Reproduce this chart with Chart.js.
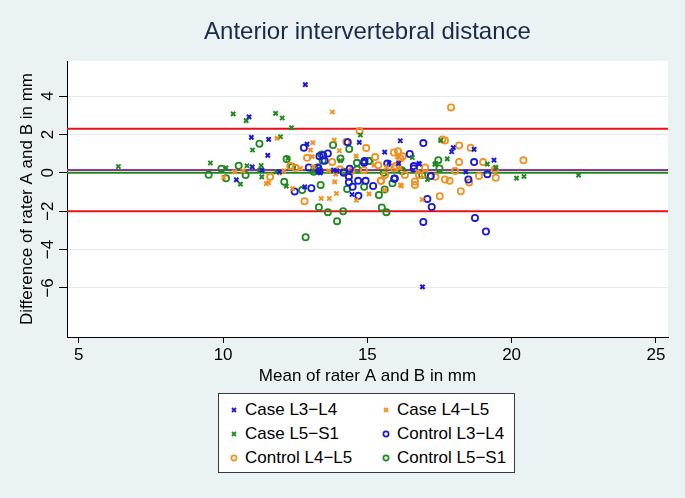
<!DOCTYPE html>
<html>
<head>
<meta charset="utf-8">
<script src="https://cdn.jsdelivr.net/npm/chart.js@4.4.1/dist/chart.umd.min.js"></script>
<style>
  body { margin: 0; background: #eaf2f3; font-family: "Liberation Sans", Arial, sans-serif; }
  #wrap { position: relative; width: 685px; height: 498px; }
  #legend {
    position: absolute; left: 218px; top: 393px; width: 295px; height: 78px;
    background: #fff; border: 1px solid #3a3a3a;
  }
  .item { position: absolute; height: 20px; line-height: 20px; font-size: 17px; color: #000; white-space: nowrap; }
  .item svg { position: absolute; left: -16px; top: 5px; }
</style>
</head>
<body>
<div id="wrap">
  <canvas id="chart" width="685" height="498"></canvas>
  <div id="legend"></div>
</div>
<script>
// ---- data (mean of A and B, difference A - B) ----
const caseL3L4 = [[10.90,2.92],[10.98,1.85],[11.01,0.31],[10.46,-0.37],[12.85,4.60],[11.58,1.74],[11.55,0.91],[12.91,1.50],[14.72,1.59],[15.60,1.08],[16.14,1.67],[16.80,0.45],[17.98,1.31],[17.92,1.10],[18.70,1.22],[19.39,0.66],[18.41,0.05],[16.91,-5.95],[12.83,-0.73],[14.47,-1.13],[13.37,0.00],[13.95,0.10],[15.75,0.52],[16.79,0.49],[11.35,0.14],[11.95,0.05],[13.83,0.14],[13.31,0.05],[16.08,0.49]];
const caseL4L5 = [[10.40,0.05],[10.69,0.10],[10.02,-0.24],[13.79,3.17],[13.11,1.57],[13.03,1.19],[13.09,0.84],[13.85,1.71],[14.03,1.15],[14.61,0.87],[16.04,0.84],[11.50,-0.56],[12.41,-0.82],[13.40,-1.34],[13.68,-1.34],[13.93,-1.08],[14.62,-1.43],[15.06,-1.10],[15.60,-0.90],[16.18,-0.68],[11.87,1.80],[11.58,-0.52],[12.10,0.10],[13.13,0.31],[13.90,-0.07],[13.87,-0.47],[16.09,0.57],[16.15,-0.64],[16.90,-1.39],[11.96,0.00],[12.68,0.23],[13.66,0.10],[15.23,0.40],[15.66,0.28],[16.13,0.25],[16.73,0.07]];
const caseL5S1 = [[6.37,0.33],[10.35,3.07],[10.80,2.72],[11.02,1.19],[9.56,0.51],[10.10,0.26],[10.83,0.37],[10.60,-0.59],[11.27,0.14],[11.82,3.10],[12.05,2.86],[12.37,2.35],[14.76,1.97],[11.99,1.88],[14.07,0.63],[17.34,0.44],[17.08,-0.35],[11.34,-0.21],[11.32,0.38],[12.19,-0.69],[17.54,1.69],[17.77,0.73],[19.16,0.45],[19.45,0.28],[20.17,-0.28],[20.43,-0.19],[22.32,-0.12],[16.56,0.80],[17.37,0.49],[11.84,0.05],[12.25,0.75]];
const controlL3L4 = [[12.80,1.31],[13.34,0.87],[13.63,1.01],[14.32,1.60],[14.90,0.61],[16.94,1.55],[16.47,0.98],[16.61,0.35],[17.20,-0.17],[17.08,-1.36],[17.23,-1.78],[16.94,-2.56],[12.48,-0.97],[13.06,-0.80],[14.36,-0.49],[14.49,-0.73],[14.68,-0.42],[14.94,-0.42],[14.69,-1.20],[15.20,-0.69],[15.93,-0.31],[18.70,0.56],[19.16,-0.07],[18.50,-0.35],[18.73,-2.35],[19.11,-3.06],[13.47,0.92],[13.52,0.63],[13.30,0.25],[13.34,0.10],[14.18,0.00],[14.36,-0.21],[15.95,-0.29],[14.89,0.52],[16.61,0.23],[12.97,0.28],[13.28,0.28],[14.39,0.21],[15.69,0.49]];
const controlL4L5 = [[14.73,2.18],[12.91,0.78],[14.96,1.29],[15.27,0.82],[15.92,1.06],[16.06,1.13],[16.30,-0.12],[17.36,-0.21],[17.51,-1.22],[11.63,-0.21],[12.82,-1.48],[15.48,-0.42],[16.65,-0.45],[15.61,-0.12],[17.90,3.41],[17.60,1.74],[17.69,1.69],[18.18,1.43],[18.58,1.31],[18.18,0.57],[19.01,0.56],[19.42,0.18],[20.41,0.65],[18.04,0.10],[18.87,-0.16],[19.45,-0.26],[18.53,-0.50],[17.69,-0.35],[17.85,-0.42],[17.00,0.28],[18.24,-0.96],[12.33,0.35],[13.78,0.57],[14.27,1.62],[15.38,0.40],[15.98,0.35],[16.15,0.75],[14.45,0.10],[15.46,-0.42],[16.23,0.87],[16.65,-0.64],[16.79,-0.12],[12.51,0.26],[14.05,0.18],[14.88,0.14],[15.93,0.23],[17.00,-0.07]];
const controlL5S1 = [[11.26,1.52],[9.94,0.21],[10.54,0.37],[9.50,-0.10],[10.10,-0.28],[10.78,-0.12],[12.20,0.72],[13.45,0.63],[13.81,1.45],[14.37,1.24],[15.05,0.61],[16.21,0.10],[17.46,0.66],[16.90,-0.10],[12.12,-0.47],[12.74,-0.90],[13.38,-0.63],[13.32,-1.79],[13.63,-2.05],[14.16,-2.00],[13.95,-2.52],[14.30,-0.84],[14.89,-0.73],[15.40,-1.16],[15.87,-0.55],[15.50,-1.81],[15.66,-2.05],[12.86,-3.36],[17.50,0.23],[12.39,0.31],[13.41,0.96],[13.14,0.05],[14.07,0.75],[14.64,0.52],[15.08,0.61],[16.19,0.14],[15.60,-0.87],[13.17,0.23],[14.18,0.05],[14.65,0.18],[15.57,0.00]];

const meanDiff = 0.15;
const upperLoA = 2.30;
const lowerLoA = -2.00;
const zeroDiff = 0;

const xRange = [4.59, 25.42];
const yRange = [-8.56, 5.83];
const xTicks = [5, 10, 15, 20, 25];
const yTicks = [-6, -4, -2, 0, 2, 4];

const BLUE = "#1a1ad6", ORANGE = "#f29020", GREEN = "#1f8a1f", RED = "#e8101a", PURPLE = "#8a3c8c";

const toPts = arr => arr.map(p => ({ x: p[0], y: p[1] }));
const hline = (v, color) => ({
  type: "line",
  data: [{ x: xRange[0], y: v }, { x: xRange[1], y: v }],
  borderColor: color, borderWidth: 2, pointRadius: 0, fill: false, order: 10
});

const series = [
  { label: "Case L3\u2212L4", data: caseL3L4, color: BLUE, style: "crossRot" },
  { label: "Case L4\u2212L5", data: caseL4L5, color: ORANGE, style: "crossRot" },
  { label: "Case L5\u2212S1", data: caseL5S1, color: GREEN, style: "crossRot" },
  { label: "Control L3\u2212L4", data: controlL3L4, color: BLUE, style: "circle" },
  { label: "Control L4\u2212L5", data: controlL4L5, color: ORANGE, style: "circle" },
  { label: "Control L5\u2212S1", data: controlL5S1, color: GREEN, style: "circle" }
];

const datasets = series.map(s => ({
  type: "scatter",
  label: s.label,
  data: toPts(s.data),
  pointStyle: s.style,
  pointRadius: s.style === "circle" ? 3.1 : 3,
  pointBorderWidth: s.style === "circle" ? 1.8 : 2,
  borderColor: s.color,
  backgroundColor: "rgba(0,0,0,0)",
  order: 1
}));
datasets.push(hline(upperLoA, RED), hline(lowerLoA, RED), hline(meanDiff, PURPLE), hline(zeroDiff, GREEN));

const plotBg = {
  id: "plotBg",
  beforeDraw(chart) {
    const { ctx, chartArea: a } = chart;
    ctx.save();
    ctx.fillStyle = "#ffffff";
    ctx.fillRect(a.left, a.top, a.right - a.left, a.bottom - a.top);
    ctx.restore();
  }
};

const fontBase = { family: "'Liberation Sans', Arial, sans-serif", size: 17 };

new Chart(document.getElementById("chart"), {
  data: { datasets },
  options: {
    responsive: false,
    animation: false,
    layout: { padding: { left: 0, right: 17, top: 0, bottom: 110 } },
    plugins: {
      legend: { display: false },
      tooltip: { enabled: false },
      title: {
        display: true,
        text: "Anterior intervertebral distance",
        fullSize: false,
        color: "#1c2a48",
        font: { family: fontBase.family, size: 24, weight: "normal" },
        padding: { top: 17.6, bottom: 14.6 }
      }
    },
    scales: {
      x: {
        type: "linear",
        min: xRange[0], max: xRange[1],
        afterBuildTicks: s => { s.ticks = xTicks.map(v => ({ value: v })); },
        afterFit: s => { s.height = 51; },
        grid: { drawOnChartArea: false, tickLength: 6, tickColor: "#000" },
        border: { color: "#000", width: 1 },
        ticks: { color: "#000", font: fontBase, padding: 2, maxRotation: 0 },
        title: { display: true, text: "Mean of rater A and B in mm", color: "#000", font: fontBase, padding: { top: 0, bottom: 1 } }
      },
      y: {
        type: "linear",
        min: yRange[0], max: yRange[1],
        afterBuildTicks: s => { s.ticks = yTicks.map(v => ({ value: v })); },
        afterFit: s => { s.width = 67; },
        grid: { color: "#e4ecee", lineWidth: 1, tickLength: 8, tickColor: "#000" },
        border: { color: "#000", width: 1 },
        ticks: {
          color: "#000", font: fontBase, padding: 1,
          minRotation: 90, maxRotation: 90, crossAlign: "center",
          callback: v => (v < 0 ? "\u2212" + Math.abs(v) : String(v))
        },
        title: { display: true, text: "Difference of rater A and B in mm", color: "#000", font: fontBase, padding: { top: 17, bottom: 0 } }
      }
    }
  },
  plugins: [plotBg]
});

// ---- legend (two columns, three rows) ----
const legendEl = document.getElementById("legend");
const cols = [26, 178];
const rows = [6, 30, 54];
series.forEach((s, i) => {
  const div = document.createElement("div");
  div.className = "item";
  div.style.left = cols[i % 2] + "px";
  div.style.top = rows[Math.floor(i / 2)] + "px";
  const mark = s.style === "circle"
    ? `<circle cx="5" cy="5" r="2.6" fill="none" stroke="${s.color}" stroke-width="1.7"/>`
    : `<path d="M3 3 L7 7 M7 3 L3 7" stroke="${s.color}" stroke-width="1.8"/>`;
  div.innerHTML = `<svg width="10" height="10">${mark}</svg>${s.label}`;
  legendEl.appendChild(div);
});
</script>
</body>
</html>
